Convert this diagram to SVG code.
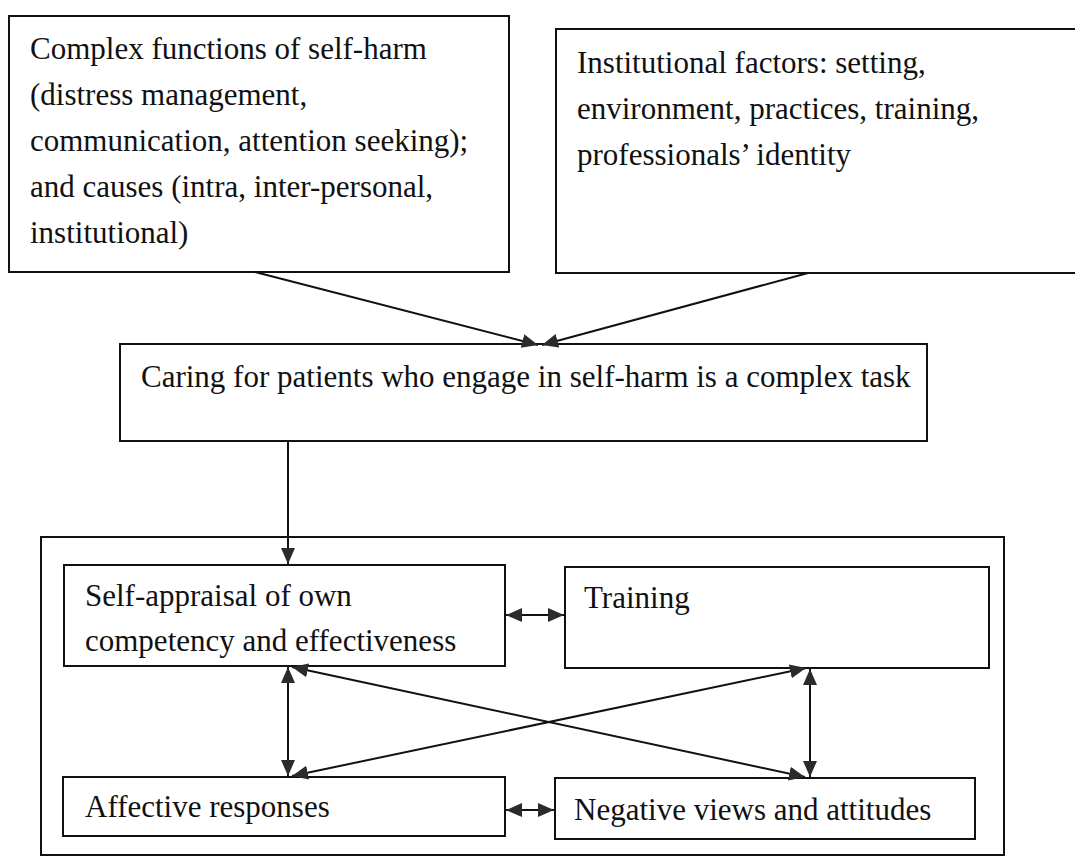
<svg xmlns="http://www.w3.org/2000/svg" width="1075" height="861" viewBox="0 0 1075 861">
<style>
.box{fill:#fff;stroke:#111;stroke-width:2}
.c{fill:none;stroke:#111;stroke-width:2}
</style>
<defs>
<marker id="ah" markerUnits="userSpaceOnUse" markerWidth="18" markerHeight="16" refX="16" refY="7" orient="auto-start-reverse" viewBox="0 0 18 16">
<path d="M0,0 L16,7 L0,14 z" fill="#2b2b2b"/>
</marker>
</defs>
<rect width="1075" height="861" fill="#fff"/>
<g font-family="Liberation Serif, Times New Roman, Times, DejaVu Serif, serif" font-size="31" fill="#111">
<g id="functions">
<rect class="box" x="9" y="16" width="500" height="256"/>
<text x="30" y="59">Complex functions of self-harm</text>
<text x="30" y="105">(distress management,</text>
<text x="30" y="151">communication, attention seeking);</text>
<text x="30" y="197">and causes (intra, inter-personal,</text>
<text x="30" y="243">institutional)</text>
</g>
<g id="institutional">
<rect class="box" x="556" y="29" width="530" height="244"/>
<text x="577" y="73">Institutional factors: setting,</text>
<text x="577" y="119">environment, practices, training,</text>
<text x="577" y="165">professionals’ identity</text>
</g>
<g id="caring">
<rect class="box" x="120" y="344" width="807" height="97"/>
<text x="141" y="387">Caring for patients who engage in self-harm is a complex task</text>
</g>
<g id="outer">
<rect class="box" x="41" y="537" width="963" height="318"/>
</g>
<g id="selfappraisal">
<rect class="box" x="64" y="565" width="441" height="101"/>
<text x="85" y="606">Self-appraisal of own</text>
<text x="85" y="651">competency and effectiveness</text>
</g>
<g id="training">
<rect class="box" x="565" y="567" width="424" height="101"/>
<text x="584" y="608">Training</text>
</g>
<g id="affective">
<rect class="box" x="63" y="777" width="442" height="59"/>
<text x="85" y="817">Affective responses</text>
</g>
<g id="negative">
<rect class="box" x="555" y="778" width="420" height="61"/>
<text x="574" y="820">Negative views and attitudes</text>
</g>
</g>
<g id="connectors">
<line class="c" x1="255" y1="272" x2="538" y2="345" marker-end="url(#ah)"/>
<line class="c" x1="808" y1="273" x2="542" y2="345" marker-end="url(#ah)"/>
<line class="c" x1="288" y1="441" x2="288" y2="564" marker-end="url(#ah)"/>
<line class="c" x1="506" y1="615" x2="564" y2="615" marker-start="url(#ah)" marker-end="url(#ah)"/>
<line class="c" x1="506" y1="810" x2="554" y2="810" marker-start="url(#ah)" marker-end="url(#ah)"/>
<line class="c" x1="288" y1="667" x2="288" y2="776" marker-start="url(#ah)" marker-end="url(#ah)"/>
<line class="c" x1="810" y1="669" x2="810" y2="777" marker-start="url(#ah)" marker-end="url(#ah)"/>
<line class="c" x1="292" y1="667" x2="805" y2="777" marker-start="url(#ah)" marker-end="url(#ah)"/>
<line class="c" x1="292" y1="776" x2="806" y2="668" marker-start="url(#ah)" marker-end="url(#ah)"/>
</g>
</svg>
